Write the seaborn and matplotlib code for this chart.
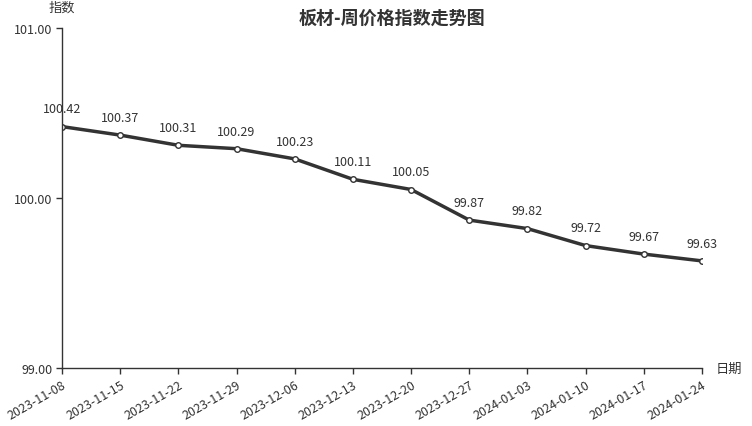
import pandas as pd
import matplotlib
matplotlib.use('Agg')
import matplotlib.pyplot as plt
import seaborn as sns

# data
dates = ['2023-11-08', '2023-11-15', '2023-11-22', '2023-11-29', '2023-12-06', '2023-12-13',
         '2023-12-20', '2023-12-27', '2024-01-03', '2024-01-10', '2024-01-17', '2024-01-24']
index_values = [100.42, 100.37, 100.31, 100.29, 100.23, 100.11,
                100.05, 99.87, 99.82, 99.72, 99.67, 99.63]
y_ticks = [99.00, 100.00, 101.00]

df = pd.DataFrame({'日期': dates, '指数': index_values})
df['pos'] = range(len(df))

sns.set_style('white')
plt.rcParams['font.family'] = ['Noto Sans CJK SC', 'DejaVu Sans']

fig = plt.figure(figsize=(7.52, 4.27), dpi=100)
ax = fig.add_axes([62 / 752, 58 / 427, 640 / 752, 340 / 427])

sns.lineplot(data=df, x='pos', y='指数', ax=ax, color='#333333', linewidth=2.5,
             marker='o', markersize=4, markerfacecolor='white',
             markeredgecolor='#333333', markeredgewidth=1)

for x, v in zip(df['pos'], df['指数']):
    ax.annotate(f'{v:.2f}', (x, v), xytext=(0, 8), textcoords='offset points',
                ha='center', va='bottom', fontsize=9, color='#333333')

ax.set_xlim(0, len(dates) - 1)
ax.set_ylim(99, 101)
ax.set_yticks(y_ticks)
ax.set_yticklabels([f'{t:.2f}' for t in y_ticks], fontsize=9, color='#333333')
ax.set_xticks(df['pos'])
ax.set_xticklabels(dates, rotation=30, ha='right', rotation_mode='anchor',
                   fontsize=9, color='#333333')
ax.tick_params(axis='both', direction='out', length=4, width=1, color='#333333', pad=3,
               bottom=True, left=True)

for side in ['top', 'right']:
    ax.spines[side].set_visible(False)
for side in ['left', 'bottom']:
    ax.spines[side].set_color('#333333')
    ax.spines[side].set_linewidth(1)

ax.set_xlabel('')
ax.set_ylabel('')
fig.text(62 / 752, 1 - 8 / 427, '指数', ha='center', va='center', fontsize=9.5, color='#333333')
fig.text(729 / 752, 1 - 369 / 427, '日期', ha='center', va='center', fontsize=9.5, color='#333333')
fig.text(392 / 752, 1 - 18 / 427, '板材-周价格指数走势图', ha='center', va='center',
         fontsize=13, fontweight='bold', color='#333333')

fig.savefig('out.png', dpi=100)
